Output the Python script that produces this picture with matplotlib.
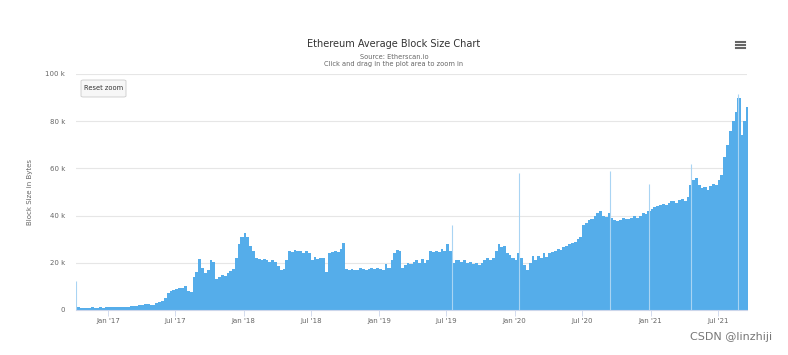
import pandas as pd
import matplotlib.pyplot as plt
import matplotlib.dates as mdates
from matplotlib.lines import Line2D
from matplotlib.patches import FancyBboxPatch

# average block size in k bytes, four readings per month (roughly weekly)
months = pd.date_range("2016-10-01", "2021-09-01", freq="MS")
block_k = [
    [1.3, 1.1, 1.0, 1.0],      # 2016-10
    [1.0, 1.0, 1.1, 1.0],
    [1.0, 1.1, 1.0, 1.1],
    [1.2, 1.1, 1.2, 1.2],      # 2017-01
    [1.2, 1.3, 1.2, 1.3],
    [1.5, 1.6, 1.8, 2.0],
    [2.3, 2.5, 2.4, 2.2],
    [2.3, 2.8, 3.2, 3.8],
    [5.0, 7.0, 8.0, 8.5],
    [9.0, 9.5, 9.5, 10.0],
    [8.0, 7.5, 14.0, 16.0],
    [21.5, 18.0, 15.5, 17.0],
    [21.0, 20.5, 13.0, 14.0],
    [15.0, 14.5, 15.5, 16.5],
    [17.5, 22.0, 28.0, 31.0],
    [32.5, 31.0, 27.0, 25.0],  # 2018-01
    [22.0, 21.5, 21.0, 21.5],
    [21.0, 20.5, 21.0, 20.5],
    [18.5, 17.0, 17.5, 21.0],
    [25.0, 24.5, 25.5, 25.0],
    [25.0, 24.0, 25.0, 24.0],
    [21.0, 22.5, 21.5, 22.0],
    [22.0, 16.0, 24.0, 24.5],
    [25.0, 24.5, 26.0, 28.5],
    [17.5, 17.0, 17.5, 17.0],
    [17.0, 18.0, 17.5, 17.0],
    [17.5, 18.0, 17.5, 18.0],
    [17.5, 17.0, 19.5, 18.0],  # 2019-01
    [21.0, 24.0, 25.5, 25.0],
    [18.0, 19.0, 20.0, 19.5],
    [20.5, 21.0, 20.0, 21.5],
    [20.0, 21.0, 25.0, 24.5],
    [25.0, 24.5, 26.0, 25.0],
    [28.0, 25.0, 20.0, 21.0],
    [21.0, 20.5, 21.0, 20.0],
    [20.5, 19.5, 20.0, 19.0],
    [20.0, 21.0, 22.0, 21.0],
    [22.0, 25.0, 28.0, 26.5],
    [27.0, 24.0, 23.5, 22.0],
    [21.0, 24.0, 22.0, 19.0],  # 2020-01
    [17.0, 20.0, 23.0, 21.0],
    [23.0, 22.0, 24.0, 22.5],
    [24.0, 24.5, 25.0, 26.0],
    [25.5, 26.5, 27.0, 28.0],
    [28.5, 29.0, 30.0, 31.0],
    [36.0, 37.0, 38.0, 38.5],
    [40.0, 41.0, 42.0, 40.0],
    [39.5, 41.0, 39.0, 38.0],
    [37.5, 38.0, 39.0, 38.5],
    [38.5, 39.0, 40.0, 39.0],
    [40.0, 41.0, 40.5, 42.0],
    [43.0, 43.5, 44.0, 44.5],  # 2021-01
    [45.0, 44.5, 45.5, 46.0],
    [46.0, 45.5, 46.5, 47.0],
    [46.0, 48.0, 53.0, 55.0],
    [56.0, 53.0, 51.5, 52.0],
    [51.0, 52.5, 53.5, 53.0],
    [55.0, 57.0, 65.0, 70.0],
    [76.0, 80.0, 84.0, 90.0],
    [74.0, 80.0, 86.0, 86.0],  # 2021-09
]

# single-day spikes
spike_dates = pd.to_datetime(["2016-10-07", "2019-07-15", "2020-01-14",
                              "2020-09-15", "2020-12-28", "2021-04-20",
                              "2021-08-25"])
spike_k = [12.5, 36.0, 58.0, 59.0, 53.6, 62.0, 91.5]

yticks = [0, 20, 40, 60, 80, 100]
ytick_labels = ["0", "20 k", "40 k", "60 k", "80 k", "100 k"]

start = pd.Timestamp("2016-10-06")
end = pd.Timestamp("2021-09-18")

dates = []
vals = []
for m, row in zip(months, block_k):
    for off, v in zip([0, 7, 15, 22], row):
        dates.append(m + pd.Timedelta(days=off))
        vals.append(v * 1000)
dates.append(end + pd.Timedelta(days=5))
vals.append(vals[-1])

fill_col = "#55adea"

fig = plt.figure(figsize=(7.88, 3.55), dpi=100)
ax = fig.add_axes([76 / 788, 1 - 310 / 355, (747 - 76) / 788, (310 - 74) / 355])

ax.fill_between(dates, vals, step="post", color=fill_col, lw=0)
ax.vlines(spike_dates, 0, [v * 1000 for v in spike_k], color="#a9d4f3", lw=0.8)

ax.set_xlim(start, end)
ax.set_ylim(0, 100000)
ax.set_yticks([v * 1000 for v in yticks])
ax.set_yticklabels(ytick_labels)
ax.yaxis.grid(True, color="#e6e6e6", lw=0.8)
ax.set_axisbelow(True)

ax.xaxis.set_major_locator(mdates.MonthLocator(bymonth=[1, 7]))
ax.xaxis.set_major_formatter(mdates.DateFormatter("%b '%y"))

for s in ["top", "right", "left"]:
    ax.spines[s].set_visible(False)
ax.spines["bottom"].set_color("#ccd6eb")
ax.spines["bottom"].set_linewidth(0.8)
ax.tick_params(axis="y", length=0, labelsize=5, colors="#666666", pad=8)
ax.tick_params(axis="x", length=4, width=0.6, color="#ccd6eb", labelsize=5,
               labelcolor="#666666", pad=2)
ax.set_ylabel("Block Size in Bytes", fontsize=5, color="#666666", labelpad=9)

fig.text(0.5, 1 - 44 / 355, "Ethereum Average Block Size Chart", ha="center",
         va="center", fontsize=7, color="#333333")
fig.text(0.5, 1 - 57 / 355, "Source: Etherscan.io", ha="center", va="center",
         fontsize=4.8, color="#666666")
fig.text(0.5, 1 - 64 / 355, "Click and drag in the plot area to zoom in",
         ha="center", va="center", fontsize=4.8, color="#666666")

# reset zoom button
btn = FancyBboxPatch((81 / 788, 1 - 97 / 355), 45 / 788, 17 / 355,
                     boxstyle="round,pad=0,rounding_size=0.003",
                     transform=fig.transFigure, fc="#f7f7f7", ec="#cccccc", lw=0.6)
fig.add_artist(btn)
fig.text(103.5 / 788, 1 - 88.5 / 355, "Reset zoom", ha="center", va="center",
         fontsize=4.8, color="#333333")

# menu icon
for yy in [42, 45, 48]:
    fig.add_artist(Line2D([736 / 788, 745 / 788], [1 - yy / 355] * 2,
                          color="#666666", lw=1.5, transform=fig.transFigure))

fig.text(772 / 788, 1 - 337 / 355, "CSDN @linzhiji", ha="right", va="center",
         fontsize=8, color="#777777")

fig.savefig("out.png", dpi=100)
